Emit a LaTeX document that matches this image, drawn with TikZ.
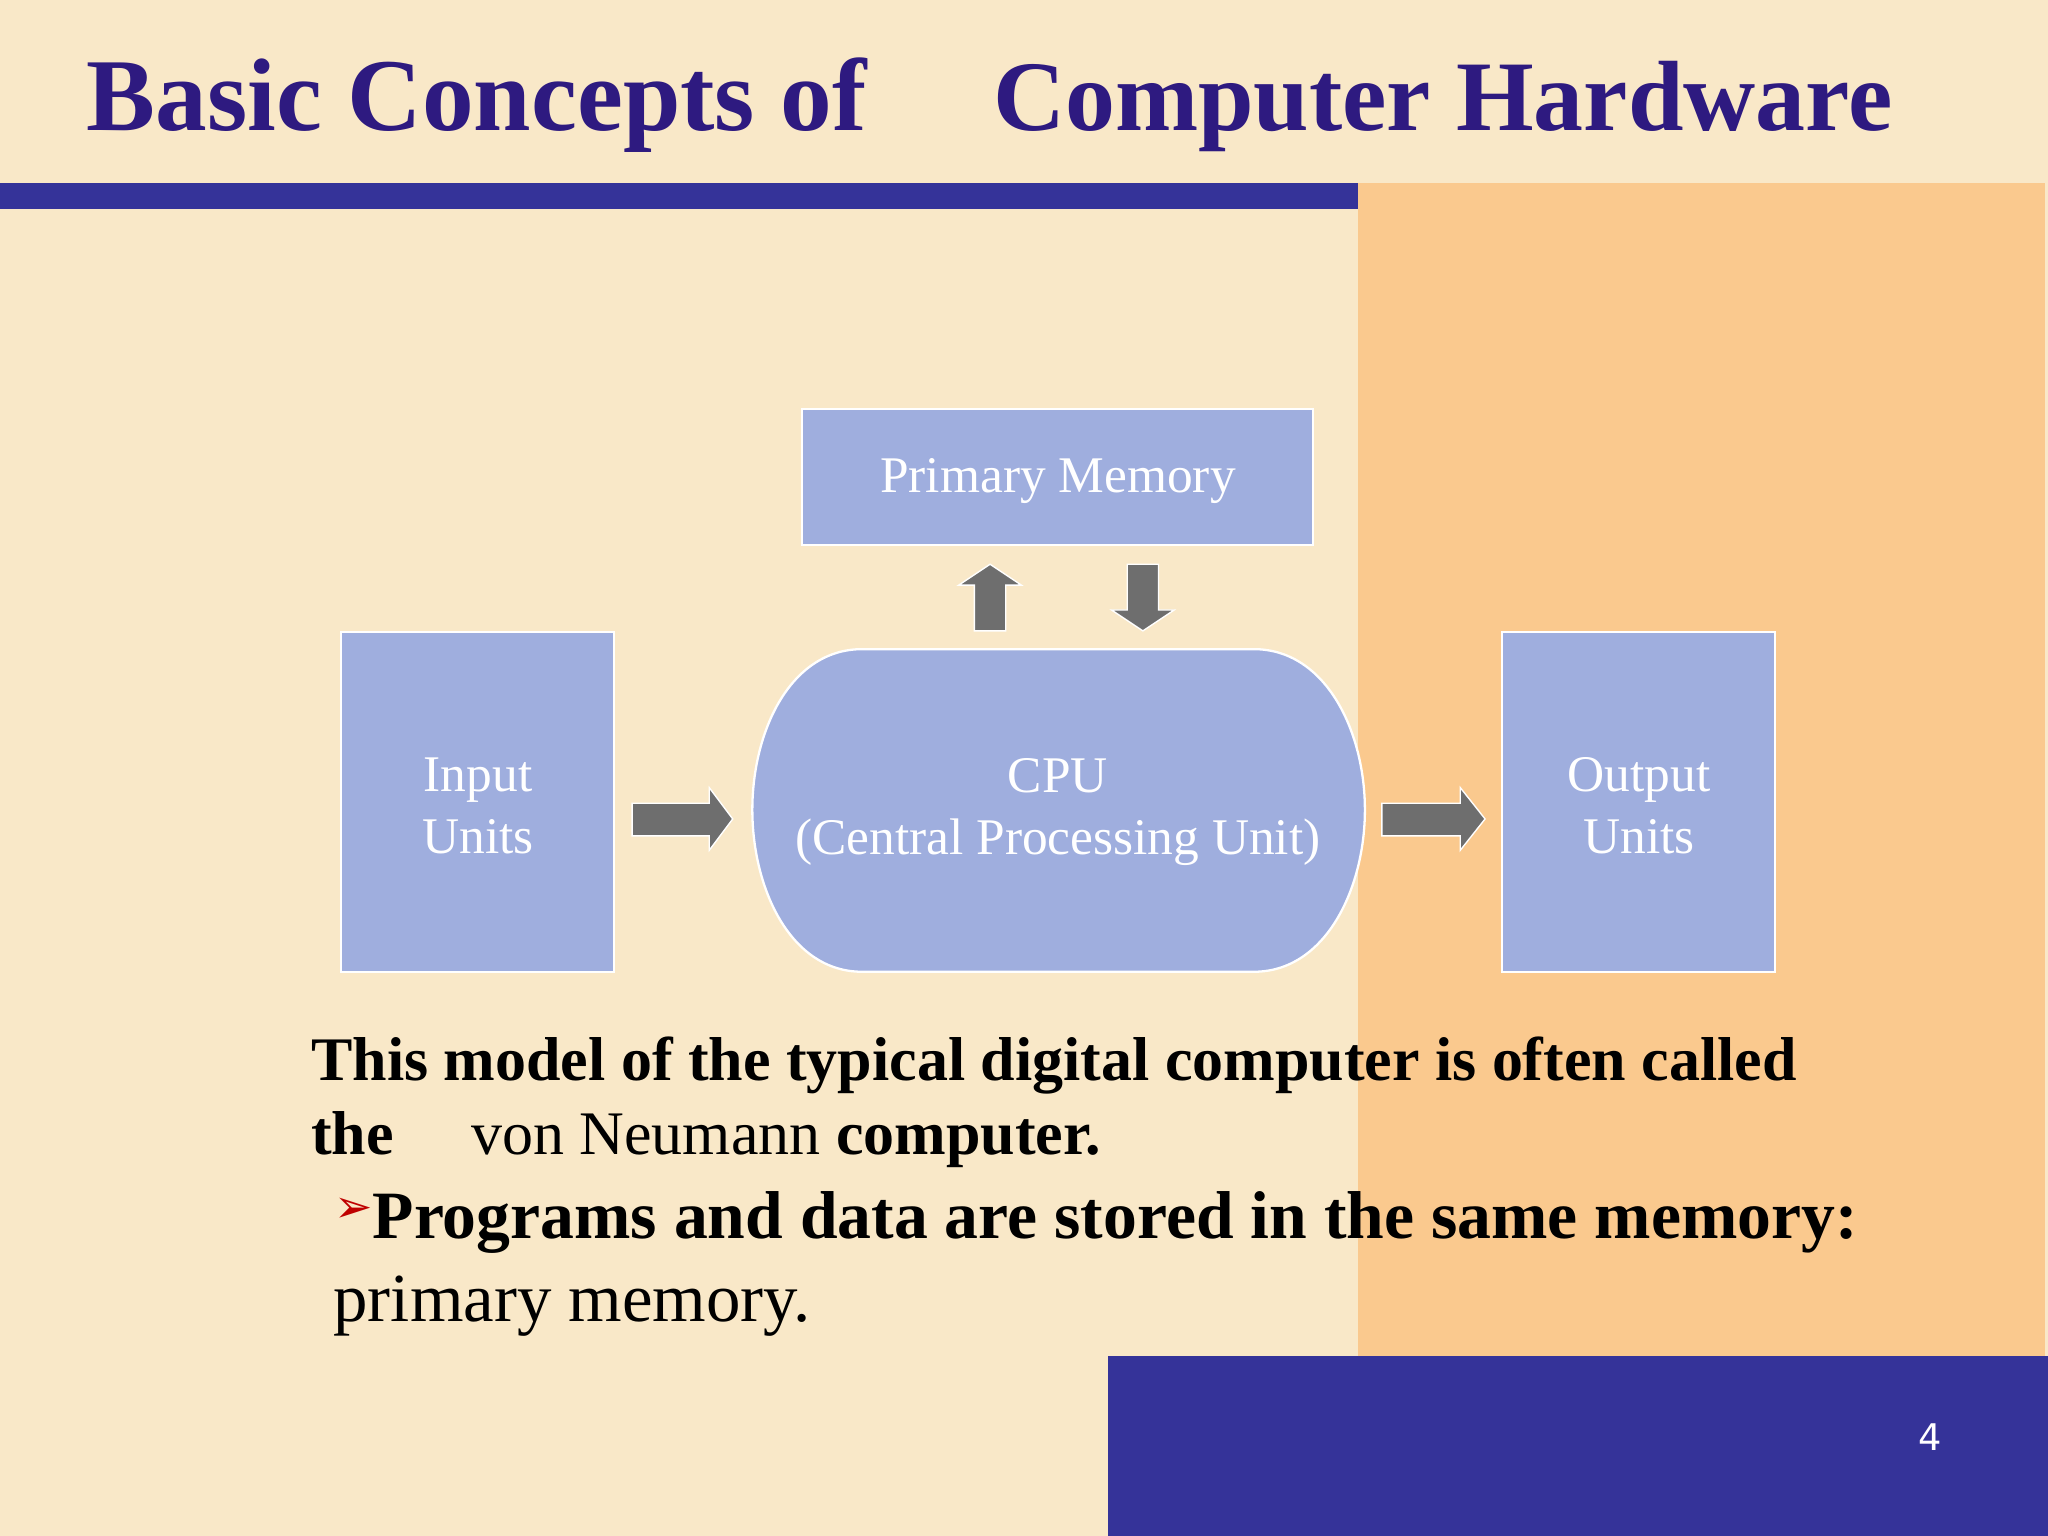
\documentclass[tikz,border=0pt]{standalone}
\usepackage{fontspec}
\setmainfont{Liberation Serif}
\newfontfamily\dejavu{DejaVu Sans}
\definecolor{bgc}{HTML}{F9E8C8}
\definecolor{orng}{HTML}{FAC98E}
\definecolor{navy}{HTML}{353399}
\definecolor{ttl}{HTML}{2E1A80}
\definecolor{boxc}{HTML}{9FAEDE}
\definecolor{arr}{HTML}{6E6E6E}
\tikzset{
 unitbox/.style={draw=white, line width=1pt, fill=boxc},
 boxtxt/.style={text=white, font=\fontsize{22.4}{27}\selectfont, align=center},
 blockarr/.style={fill=arr, draw=white, line width=0.6pt},
 body/.style={anchor=base west, font=\fontsize{27}{32}\selectfont, inner sep=0pt}
}
\begin{document}
\begin{tikzpicture}[x=0.02cm,y=-0.02cm]
\fill[bgc] (0,0) rectangle (1568,1176);
\fill[orng] (1040,140) rectangle (1566,1040);
\fill[navy] (0,140) rectangle (1040,160);
\fill[navy] (848,1038) rectangle (1568,1176);
\node[text=white, font=\dejavu\fontsize{16}{18}\selectfont] (pg) at (1478,1100) {4};
\node[anchor=base west, inner sep=0pt, text=ttl, font=\bfseries\fontsize{45}{50}\selectfont] (t1) at (66,100) {Basic Concepts of};
\node[anchor=base west, inner sep=0pt, text=ttl, font=\bfseries\fontsize{43.5}{50}\selectfont] (t2) at (760,100) {Computer Hardware};
% boxes
\draw[unitbox] (614,313) rectangle (1005,417);
\node[boxtxt] (mem) at (810,368) {Primary Memory};
\draw[unitbox] (261,484) rectangle (470,744);
\node[boxtxt] (in) at (366,617) {Input\\Units};
\draw[unitbox] (1150,484) rectangle (1359,744);
\node[boxtxt] (out) at (1255,617) {Output\\Units};
\draw[unitbox] (960,497) .. controls (1015,497) and (1045,560) .. (1045,620) .. controls (1045,680) and (1015,744) .. (960,744) -- (660,744) .. controls (605,744) and (576,680) .. (576,620) .. controls (576,560) and (605,497) .. (660,497) -- cycle;
\node[boxtxt] (cpu) at (810,622) {CPU\\(Central Processing Unit)};
% arrows
\draw[blockarr] (484,615) -- (543,615) -- (543,603) -- (561,627) -- (543,651) -- (543,640) -- (484,640) -- cycle;
\draw[blockarr] (1058,615) -- (1118,615) -- (1118,603) -- (1137,627) -- (1118,651) -- (1118,640) -- (1058,640) -- cycle;
\draw[blockarr] (746,483) -- (746,448) -- (734,448) -- (758,432) -- (782,448) -- (770,448) -- (770,483) -- cycle;
\draw[blockarr] (863,432) -- (863,467) -- (851,467) -- (875,483) -- (899,467) -- (887,467) -- (887,432) -- cycle;
% text
\node[body, font=\bfseries\fontsize{27}{32}\selectfont] (l1) at (238,827) {This model of the typical digital computer is often called};
\node[body] (l2) at (238,884) {\textbf{the}\quad\ von Neumann \textbf{computer.}};
\node[anchor=base west, inner sep=0pt, text=red!75!black, font=\dejavu\fontsize{20}{22}\selectfont] (bul) at (256,936) {➢};
\node[body, font=\bfseries\fontsize{29.5}{34}\selectfont] (l3) at (285,948) {Programs and data are stored in the same memory:};
\node[body, font=\fontsize{30}{34}\selectfont] (l4) at (255,1012) {primary memory.};
\end{tikzpicture}
\end{document}
